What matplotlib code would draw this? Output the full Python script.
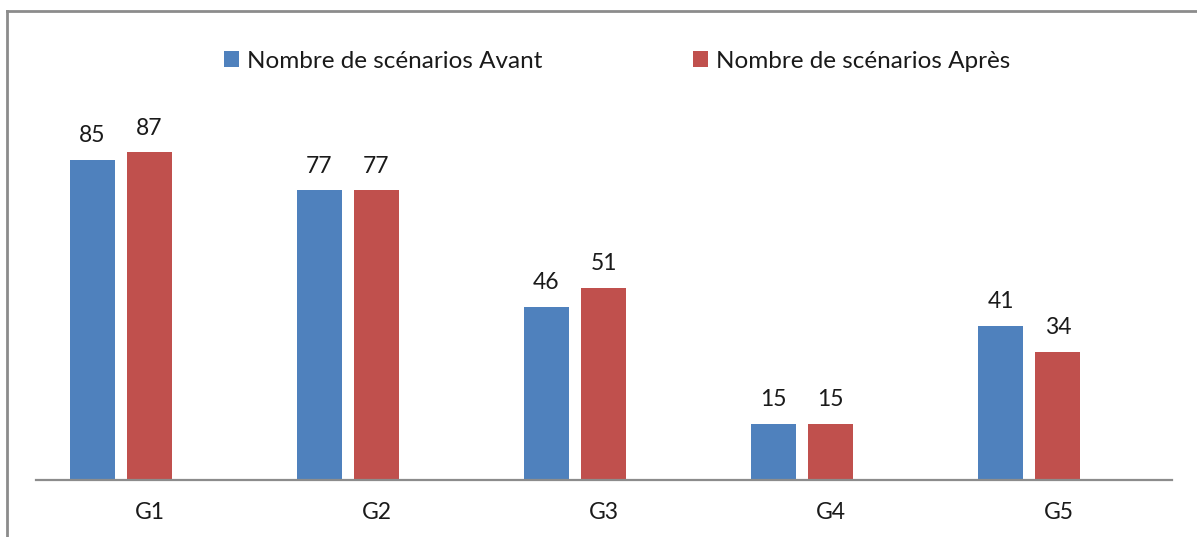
import matplotlib.pyplot as plt
from matplotlib.lines import Line2D
from matplotlib.patches import Patch
import numpy as np

groups = ["G1", "G2", "G3", "G4", "G5"]
avant = [85, 77, 46, 15, 41]
apres = [87, 77, 51, 15, 34]
series_names = ["Nombre de scénarios Avant", "Nombre de scénarios Après"]

BLUE = "#4F81BD"
RED = "#C0504D"

plt.rcParams["font.family"] = ["Lato", "DejaVu Sans"]

W, H = 1197, 537
fig = plt.figure(figsize=(W / 100, H / 100), dpi=100)
ax = fig.add_axes([36 / W, (H - 480) / H, 1136 / W, 376.5 / H])

x = np.arange(len(groups))
bw = 0.198
# Excel layout with an empty third series: bars sit left of the category centre
b1 = ax.bar(x - 0.253, avant, bw, color=BLUE, label=series_names[0])
b2 = ax.bar(x - 0.002, apres, bw, color=RED, label=series_names[1])

for bars, vals in ((b1, avant), (b2, apres)):
    for r, v in zip(bars, vals):
        ax.text(r.get_x() + r.get_width() / 2, v + 3.6, str(v),
                ha="center", va="bottom", fontsize=16.5, color="#1a1a1a")

ax.set_xlim(-0.5, len(groups) - 0.5)
ax.set_ylim(0, 100)
ax.set_xticks(x)
ax.set_xticklabels(groups, fontsize=16.5, color="#1a1a1a")
ax.tick_params(axis="x", length=0, pad=16)
ax.set_yticks([])
for s in ("top", "right", "left"):
    ax.spines[s].set_visible(False)
ax.spines["bottom"].set_color("#8c8c8c")
ax.spines["bottom"].set_linewidth(1.6)

handles = [Patch(facecolor=BLUE), Patch(facecolor=RED)]
fig.legend(handles, series_names, loc="center",
           bbox_to_anchor=(617 / W, 1 - 61 / H), ncol=2, frameon=False,
           fontsize=17.5, handlelength=0.62, handleheight=0.62,
           handletextpad=0.33, columnspacing=6.2, borderaxespad=0,
           labelcolor="#1a1a1a")

# chart frame (only top and left edges visible in the crop)
fig.add_artist(Line2D([6.5 / W, 1], [1 - 11 / H, 1 - 11 / H],
                      transform=fig.transFigure, color="#8c8c8c", lw=2))
fig.add_artist(Line2D([6.5 / W, 6.5 / W], [0, 1 - 11 / H],
                      transform=fig.transFigure, color="#8c8c8c", lw=2))

fig.savefig("out.png", dpi=100)
